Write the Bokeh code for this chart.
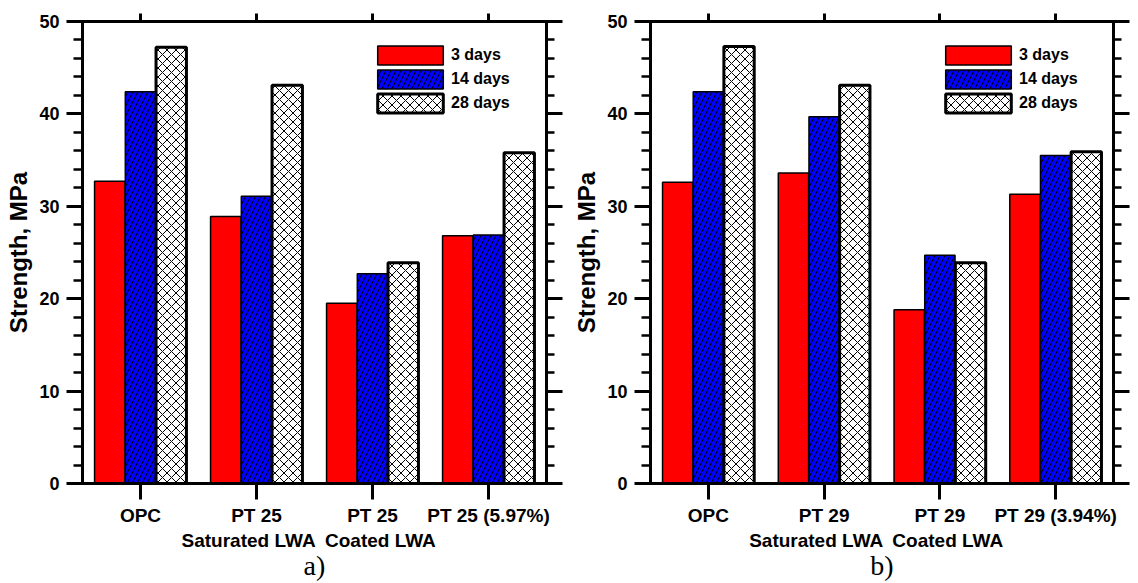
from bokeh.plotting import figure
from bokeh.models import (ColumnDataSource, FactorRange, Range1d, CategoricalAxis,
                          LinearAxis, SingleIntervalTicker, Legend, LegendItem)
from bokeh.transform import dodge
from bokeh.layouts import row
from bokeh.embed import file_html
from bokeh.resources import INLINE

NB = "\u00a0"
# ---- data ----
categories_a = ["OPC", "PT 25\nSaturated LWA" + NB * 3, "PT 25\n" + NB * 3 + "Coated LWA", "PT 25 (5.97%)"]
strength_3d_a = [32.7, 28.9, 19.5, 26.8]
strength_14d_a = [42.4, 31.1, 22.7, 26.9]
strength_28d_a = [47.2, 43.1, 23.9, 35.8]

categories_b = ["OPC", "PT 29\nSaturated LWA" + NB * 3, "PT 29\n" + NB * 3 + "Coated LWA", "PT 29 (3.94%)"]
strength_3d_b = [32.6, 33.6, 18.8, 31.3]
strength_14d_b = [42.4, 39.7, 24.7, 35.5]
strength_28d_b = [47.3, 43.1, 23.9, 35.9]

series_labels = ["3 days", "14 days", "28 days"]
panel_captions = ["a)", "b)"]
y_title = "Strength, MPa"
y_min, y_max, y_step = 0, 50, 10

SANS = "Liberation Sans"
SERIF = "Liberation Serif"


def style_ticks(ax, major_out, minor_out=0):
    ax.axis_line_width = 3
    ax.axis_line_color = "black"
    ax.major_tick_in = 0
    ax.major_tick_out = major_out
    ax.major_tick_line_width = 3
    ax.major_tick_line_color = "black"
    ax.minor_tick_in = 0
    ax.minor_tick_out = minor_out
    ax.minor_tick_line_width = 2.5
    ax.minor_tick_line_color = "black"


def make_panel(cats, v3, v14, v28, caption, bl, br, bt):
    p = figure(x_range=FactorRange(*cats, range_padding=0),
               y_range=Range1d(y_min, y_max),
               width=569, height=583, output_backend="svg", toolbar_location=None,
               min_border_left=bl, min_border_right=br, min_border_top=bt,
               min_border_bottom=100)
    p.xgrid.visible = False
    p.ygrid.visible = False
    p.outline_line_color = "black"
    p.outline_line_width = 3
    p.background_fill_color = "white"
    p.border_fill_color = "white"

    src = ColumnDataSource(dict(cat=cats, d3=v3, d14=v14, d28=v28))
    w = 0.262
    r1 = p.vbar(x=dodge("cat", -0.265, range=p.x_range), top="d3", width=w, source=src,
                fill_color="#FF0000", line_color="black", line_width=1.5)
    r2 = p.vbar(x=dodge("cat", 0.0, range=p.x_range), top="d14", width=w, source=src,
                fill_color="#0000FF", line_color="black", line_width=1.5,
                hatch_pattern="/", hatch_color="black", hatch_scale=10, hatch_weight=1)
    r3 = p.vbar(x=dodge("cat", 0.265, range=p.x_range), top="d28", width=w, source=src,
                fill_color="white", line_color="black", line_width=3,
                hatch_pattern="x", hatch_color="black", hatch_scale=9, hatch_weight=1)

    xb = p.xaxis[0]
    style_ticks(xb, 16)
    xb.major_label_text_font = SANS
    xb.major_label_text_font_style = "bold"
    xb.major_label_text_font_size = "19px"
    xb.major_label_text_color = "black"
    xb.major_label_standoff = 5
    xb.axis_label = caption
    xb.axis_label_text_font = SERIF
    xb.axis_label_text_font_style = "normal"
    xb.axis_label_text_font_size = "28px"
    xb.axis_label_text_color = "black"
    xb.axis_label_standoff = -4

    xt = CategoricalAxis(major_label_text_font_size="1px", major_label_text_alpha=0)
    style_ticks(xt, 8)
    xt.major_label_standoff = 0
    p.add_layout(xt, "above")

    yl = p.yaxis[0]
    yl.ticker = SingleIntervalTicker(interval=y_step, num_minor_ticks=5)
    style_ticks(yl, 16, 9)
    yl.major_label_text_font = SANS
    yl.major_label_text_font_style = "bold"
    yl.major_label_text_font_size = "18px"
    yl.major_label_text_color = "black"
    yl.major_label_standoff = 7
    yl.axis_label = y_title
    yl.axis_label_text_font = SANS
    yl.axis_label_text_font_style = "bold"
    yl.axis_label_text_font_size = "24px"
    yl.axis_label_text_color = "black"
    yl.axis_label_standoff = 4

    yr = LinearAxis(ticker=SingleIntervalTicker(interval=y_step, num_minor_ticks=5),
                    major_label_text_font_size="1px", major_label_text_alpha=0)
    style_ticks(yr, 16, 8)
    yr.major_label_standoff = 0
    p.add_layout(yr, "right")

    legend = Legend(items=[LegendItem(label=series_labels[0], renderers=[r1]),
                           LegendItem(label=series_labels[1], renderers=[r2]),
                           LegendItem(label=series_labels[2], renderers=[r3])],
                    location=(287, 368), padding=0, spacing=0, margin=0,
                    glyph_width=82, glyph_height=24, label_standoff=0,
                    label_text_font=SANS, label_text_font_style="bold",
                    label_text_font_size="16px", label_text_color="black",
                    border_line_alpha=0, background_fill_alpha=0)
    p.add_layout(legend)
    return p


pa = make_panel(categories_a, strength_3d_a, strength_14d_a, strength_28d_a,
                panel_captions[0], 82, 23, 18)
pb = make_panel(categories_b, strength_3d_b, strength_14d_b, strength_28d_b,
                panel_captions[1], 81, 25, 21)

layout = row(pa, pb)
open("out.html", "w").write(file_html(layout, INLINE))
